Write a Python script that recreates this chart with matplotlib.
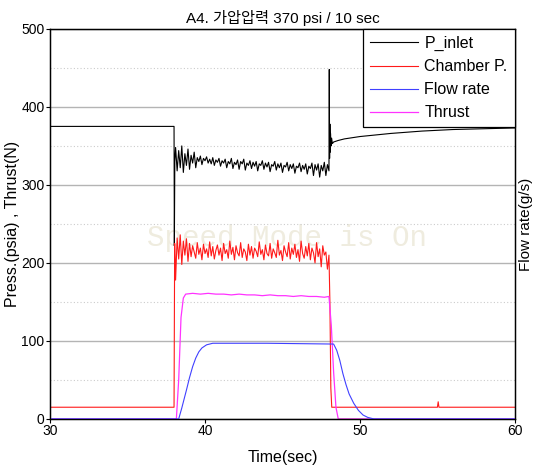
import matplotlib
matplotlib.use("Agg")
import matplotlib.pyplot as plt
import numpy as np

plt.rcParams["font.family"] = ["Liberation Sans", "Noto Sans CJK KR", "DejaVu Sans"]

# --- data --------------------------------------------------------------
# noisy firing window, sampled every 0.1 s
T_NOISE = np.linspace(38.1, 47.9, 99)

P_INLET_PRE_T = [30.0, 38.0, 38.02, 38.05]
P_INLET_PRE = [375, 375, 222, 330]
P_INLET_NOISE = [
    348, 318, 344, 322, 350, 316, 340, 325, 346, 320,
    338, 328, 342, 322, 335, 330, 337, 326, 334, 331,
    336, 328, 333, 327, 335, 325, 332, 329, 334, 324,
    331, 328, 333, 322, 330, 327, 334, 321, 329, 326,
    332, 320, 330, 327, 333, 319, 328, 325, 331, 321,
    329, 324, 330, 318, 327, 325, 331, 320, 328, 323,
    329, 317, 326, 324, 330, 319, 327, 322, 328, 316,
    325, 323, 329, 318, 326, 321, 327, 315, 324, 322,
    328, 317, 325, 320, 327, 314, 324, 321, 328, 312,
    326, 319, 327, 310, 325, 318, 329, 312, 326,
]
P_INLET_POST_T = [48.0, 48.02, 48.04, 48.06, 48.08, 48.1, 48.13, 48.17, 48.22,
                  48.3, 48.6, 49.0, 50.0, 51.0, 52.0, 54.0, 56.0, 58.0, 60.0]
P_INLET_POST = [318, 448, 334, 378, 342, 366, 350, 360, 353,
                355, 357, 359, 362, 364, 366, 369, 371, 372, 373]

CHAMBER_PRE_T = [30.0, 38.0, 38.04]
CHAMBER_PRE = [15, 15, 225]
CHAMBER_NOISE = [
    178, 232, 205, 236, 198, 228, 210, 231, 202, 225,
    208, 222, 214, 206, 226, 211, 219, 204, 224, 212,
    218, 207, 227, 209, 221, 205, 216, 223, 210, 219,
    203, 225, 212, 217, 206, 228, 211, 220, 204, 222,
    213, 209, 226, 207, 218, 214, 203, 224, 210, 221,
    206, 219, 215, 208, 227, 211, 217, 204, 223, 212,
    209, 225, 206, 218, 213, 207, 229, 210, 216, 203,
    222, 214, 208, 226, 205, 219, 211, 224, 207, 217,
    202, 228, 212, 206, 221, 209, 225, 204, 219, 213,
    200, 226, 208, 218, 195, 222, 210, 214, 192,
]
CHAMBER_POST_T = [48.0, 48.06, 48.12, 48.18, 55.0, 55.05, 55.1, 60.0]
CHAMBER_POST = [210, 150, 40, 15, 15, 22, 15, 15]

FLOW_T = [30, 38.3, 38.5, 38.8, 39.0, 39.2, 39.4, 39.6, 39.8, 40.1, 40.5, 41.0,
          44.0, 48.3, 48.5, 48.7, 48.9, 49.1, 49.3, 49.6, 49.9, 50.2, 50.5,
          50.9, 60]
FLOW = [0, 0, 14, 37, 53, 67, 78, 86, 91, 95, 97, 97,
        97, 96, 88, 75, 58, 44, 32, 20, 11, 5, 2,
        0, 0]

THRUST_T = [30, 38.15, 38.3, 38.45, 38.6, 38.75, 39.2, 39.7, 40.2, 40.7, 41.2,
            41.7, 42.2, 42.7, 43.2, 43.7, 44.2, 44.7, 45.2, 45.7, 46.2, 46.7,
            47.2, 47.7, 48.0, 48.15, 48.3, 48.45, 48.6, 60]
THRUST = [0, 0, 50, 130, 155, 160, 161, 160, 161, 160, 160,
          159, 160, 159, 159, 158, 159, 158, 158, 157, 158, 157,
          157, 156, 157, 120, 60, 15, 0, 0]

p_inlet_t = np.concatenate([P_INLET_PRE_T, T_NOISE, P_INLET_POST_T])
p_inlet = np.concatenate([P_INLET_PRE, P_INLET_NOISE, P_INLET_POST])
chamber_t = np.concatenate([CHAMBER_PRE_T, T_NOISE, CHAMBER_POST_T])
chamber = np.concatenate([CHAMBER_PRE, CHAMBER_NOISE, CHAMBER_POST])

# --- figure ---------------------------------------------------------------
fig = plt.figure(figsize=(5.33, 4.66), dpi=100)
ax = fig.add_axes([0.094, 0.101, 0.872, 0.837])
ax2 = ax.twinx()

ax.set_yticks([100, 200, 300, 400], minor=False)
ax.set_yticks([50, 150, 250, 350, 450], minor=True)
ax.grid(True, which="major", axis="y", color="#b4b4b4", lw=1.0)
ax.grid(True, which="minor", axis="y", color="#cccccc", lw=0.8, ls=(0, (1, 2)))
ax.set_axisbelow(True)

ax.text(45.3, 232, "Speed Mode is On", family="Liberation Mono", fontsize=21,
        color="#efecdf", ha="center", va="center", zorder=0)

l1, = ax.plot(p_inlet_t, p_inlet, color="black", lw=0.8, label="P_inlet")
l2, = ax.plot(chamber_t, chamber, color="#ff1a1a", lw=0.8, label="Chamber P.")
l4, = ax.plot(THRUST_T, THRUST, color="#ff33ff", lw=0.9, label="Thrust")
l3, = ax2.plot(FLOW_T, FLOW, color="#4040ff", lw=0.8, label="Flow rate")

ax.set_xlim(30, 60)
ax.set_ylim(0, 500)
ax2.set_ylim(0, 500)
ax.set_xticks([30, 40, 50, 60])
ax.set_yticks([0, 100, 200, 300, 400, 500])
ax.set_yticks([50, 150, 250, 350, 450], minor=True)
ax.tick_params(axis="y", which="minor", length=0)
ax.tick_params(axis="both", which="major", labelsize=10, length=3, width=0.8, pad=1)
ax2.set_yticks([])

ax.set_xlabel("Time(sec)", fontsize=11.5, labelpad=8)
ax.set_ylabel("Press.(psia) , Thrust(N)", fontsize=11.5, labelpad=1)
ax2.set_ylabel("Flow rate(g/s)", fontsize=11, labelpad=3)
ax.set_title("A4. 가압압력 370 psi / 10 sec", fontsize=11, pad=4)

for sp in ax.spines.values():
    sp.set_linewidth(1.0)

leg = ax2.legend([l1, l2, l3, l4], ["P_inlet", "Chamber P.", "Flow rate", "Thrust"],
                 loc="upper right", fontsize=11.5, frameon=True, fancybox=False,
                 framealpha=1, edgecolor="black", borderaxespad=0,
                 handlelength=3.0, handletextpad=0.4, labelspacing=0.5,
                 borderpad=0.45)
leg.get_frame().set_linewidth(0.9)

fig.savefig("out.png", dpi=100)
